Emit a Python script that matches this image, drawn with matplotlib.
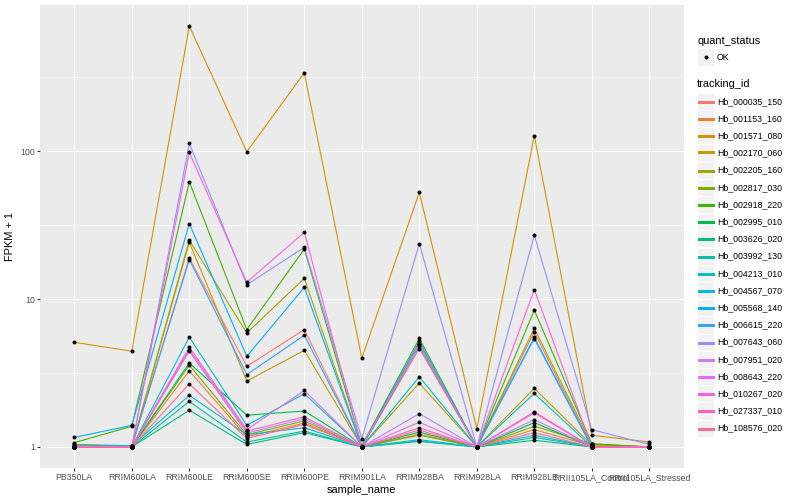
import numpy as np
import matplotlib
matplotlib.use("Agg")
import matplotlib.pyplot as plt
from matplotlib.lines import Line2D
from matplotlib.patches import Rectangle
from matplotlib.ticker import FixedLocator, NullFormatter

plt.rcParams["font.family"] = ["Liberation Sans", "DejaVu Sans"]

samples = ["PB350LA", "RRIM600LA", "RRIM600LE", "RRIM600SE", "RRIM600PE",
           "RRIM901LA", "RRIM928BA", "RRIM928LA", "RRIM928LE",
           "RRII105LA_Control", "RRII105LA_Stressed"]

tracking_ids = ["Hb_000035_150", "Hb_001153_160", "Hb_001571_080", "Hb_002170_060",
                "Hb_002205_160", "Hb_002817_030", "Hb_002918_220", "Hb_002995_010",
                "Hb_003626_020", "Hb_003992_130", "Hb_004213_010", "Hb_004567_070",
                "Hb_005568_140", "Hb_006615_220", "Hb_007643_060", "Hb_007951_020",
                "Hb_008643_220", "Hb_010267_020", "Hb_027337_010", "Hb_108576_020"]

# FPKM + 1, one list per gene, in the order of samples
hb_000035_150 = [1.0, 1.01, 18.9, 3.51, 6.22, 1.0, 4.63, 1.0, 6.0, 1.0, 1.0]
hb_001153_160 = [1.02, 1.0, 3.27, 1.17, 1.45, 1.0, 1.22, 1.0, 1.31, 1.02, 1.0]
hb_001571_080 = [5.1, 4.44, 702, 99, 339, 3.98, 52.6, 1.33, 127.6, 1.2, 1.08]
hb_002170_060 = [1.0, 1.0, 24.2, 2.79, 4.5, 1.0, 2.70, 1.0, 2.49, 1.03, 1.0]
hb_002205_160 = [1.03, 1.01, 25.0, 5.9, 13.8, 1.0, 5.0, 1.0, 6.35, 1.04, 1.0]
hb_002817_030 = [1.0, 1.0, 3.57, 1.21, 1.50, 1.0, 1.20, 1.0, 1.38, 1.05, 1.0]
hb_002918_220 = [1.07, 1.38, 62, 6.22, 21.8, 1.02, 5.42, 1.0, 8.4, 1.05, 1.0]
hb_002995_010 = [1.0, 1.0, 3.7, 1.64, 1.75, 1.0, 1.26, 1.0, 1.46, 1.0, 1.0]
hb_003626_020 = [1.0, 1.0, 1.77, 1.04, 1.25, 1.0, 1.09, 1.0, 1.11, 1.0, 1.0]
hb_003992_130 = [1.0, 1.0, 2.03, 1.08, 1.28, 1.0, 1.10, 1.0, 1.16, 1.0, 1.0]
hb_004213_010 = [1.0, 1.0, 5.53, 1.40, 2.29, 1.0, 2.98, 1.0, 2.30, 1.0, 1.0]
hb_004567_070 = [1.04, 1.02, 2.23, 1.21, 1.35, 1.0, 1.12, 1.0, 1.20, 1.0, 1.0]
hb_005568_140 = [1.16, 1.40, 32.4, 4.1, 12.0, 1.0, 5.19, 1.0, 5.5, 1.0, 1.0]
hb_006615_220 = [1.0, 1.01, 18.5, 3.09, 5.69, 1.0, 4.8, 1.0, 5.4, 1.0, 1.0]
hb_007643_060 = [1.0, 1.0, 113, 12.5, 22.4, 1.14, 23.7, 1.0, 27.0, 1.31, 1.04]
hb_007951_020 = [1.0, 1.0, 4.44, 1.24, 1.55, 1.0, 1.68, 1.0, 1.53, 1.0, 1.0]
hb_008643_220 = [1.0, 1.0, 4.73, 1.31, 2.41, 1.0, 1.47, 1.0, 1.73, 1.0, 1.0]
hb_010267_020 = [1.0, 1.0, 98, 13.0, 28.3, 1.0, 4.93, 1.0, 11.6, 1.0, 1.0]
hb_027337_010 = [1.0, 1.0, 4.56, 1.28, 1.60, 1.0, 1.35, 1.0, 1.70, 1.0, 1.0]
hb_108576_020 = [1.0, 1.0, 2.67, 1.14, 1.42, 1.0, 1.30, 1.0, 1.25, 1.0, 1.0]

fpkm = [hb_000035_150, hb_001153_160, hb_001571_080, hb_002170_060, hb_002205_160,
        hb_002817_030, hb_002918_220, hb_002995_010, hb_003626_020, hb_003992_130,
        hb_004213_010, hb_004567_070, hb_005568_140, hb_006615_220, hb_007643_060,
        hb_007951_020, hb_008643_220, hb_010267_020, hb_027337_010, hb_108576_020]

# ggplot2 default hue palette for 20 groups
colors = ["#F8766D", "#EA8331", "#D89000", "#C09B00", "#A3A500", "#7CAE00", "#39B600",
          "#00BB4E", "#00BF7D", "#00C1A3", "#00BFC4", "#00BAE0", "#00B0F6", "#35A2FF",
          "#9590FF", "#C77CFF", "#E76BF3", "#FA62DB", "#FF62BC", "#FF6C91"]

W, H = 800, 500
fig = plt.figure(figsize=(W / 72, H / 72), dpi=72)
ax = fig.add_axes([39.8 / W, 1 - 468 / H, 644 / W, 463 / H])
ax.set_facecolor("#EBEBEB")

x = np.arange(len(samples))
for values, color in zip(fpkm, colors):
    ax.plot(x, values, color=color, linewidth=1.1, zorder=3)
for values in fpkm:
    ax.plot(x, values, linestyle="none", marker="o", markersize=4,
            color="black", markeredgewidth=0, zorder=4)

ax.set_yscale("log")
all_vals = np.log10(np.concatenate([np.array(v, dtype=float) for v in fpkm]))
lo, hi = all_vals.min(), all_vals.max()
pad = 0.05 * (hi - lo)
ax.set_ylim(10 ** (lo - pad), 10 ** (hi + pad))
ax.set_xlim(-0.6, len(samples) - 0.4)

ax.yaxis.set_major_locator(FixedLocator([1, 10, 100]))
ax.set_yticklabels(["1", "10", "100"])
ax.yaxis.set_minor_locator(FixedLocator([10 ** 0.5, 10 ** 1.5, 10 ** 2.5]))
ax.yaxis.set_minor_formatter(NullFormatter())
ax.set_xticks(x)
ax.set_xticklabels(samples)

ax.grid(which="major", color="white", linewidth=1.07, zorder=0)
ax.grid(which="minor", axis="y", color="white", linewidth=0.53, zorder=0)
ax.set_axisbelow(True)
for spine in ax.spines.values():
    spine.set_visible(False)
ax.tick_params(which="major", length=2.75, width=1.07, color="#333333",
               labelcolor="#4D4D4D", labelsize=8.8, pad=2.2)
ax.tick_params(which="minor", length=0)

ax.set_xlabel("sample_name", fontsize=11, labelpad=3)
ax.set_ylabel("FPKM + 1", fontsize=11, labelpad=5)

# legends drawn by hand, ggplot style
def fx(px):
    return px / W


def fy(py):
    return 1 - py / H


key = 17.2
kx = 697
tx = 717
fig.text(fx(kx), fy(40.7), "quant_status", fontsize=11, va="center", ha="left")
fig.patches.append(Rectangle((fx(kx), fy(57 + key / 2)), key / W, key / H,
                             transform=fig.transFigure, facecolor="#F2F2F2",
                             edgecolor="white", linewidth=1))
fig.lines.append(Line2D([fx(kx + key / 2)], [fy(57)], transform=fig.transFigure,
                        marker="o", markersize=4, color="black", markeredgewidth=0))
fig.text(fx(tx), fy(57), "OK", fontsize=8.8, va="center", ha="left")

fig.text(fx(kx), fy(84.3), "tracking_id", fontsize=11, va="center", ha="left")
for i, (tid, color) in enumerate(zip(tracking_ids, colors)):
    cy = 101.3 + i * key
    ly = np.floor(cy) + 0.5
    fig.patches.append(Rectangle((fx(kx), fy(cy + key / 2)), key / W, key / H,
                                 transform=fig.transFigure, facecolor="#F2F2F2",
                                 edgecolor="white", linewidth=1, zorder=1))
    fig.lines.append(Line2D([fx(kx + 1.7), fx(kx + key - 1.7)], [fy(ly), fy(ly)],
                            transform=fig.transFigure, color=color, linewidth=1.3,
                            zorder=3, antialiased=False))
    fig.text(fx(tx), fy(cy), tid, fontsize=8.8, va="center", ha="left")

fig.savefig("out.png", dpi=72, facecolor="white")
